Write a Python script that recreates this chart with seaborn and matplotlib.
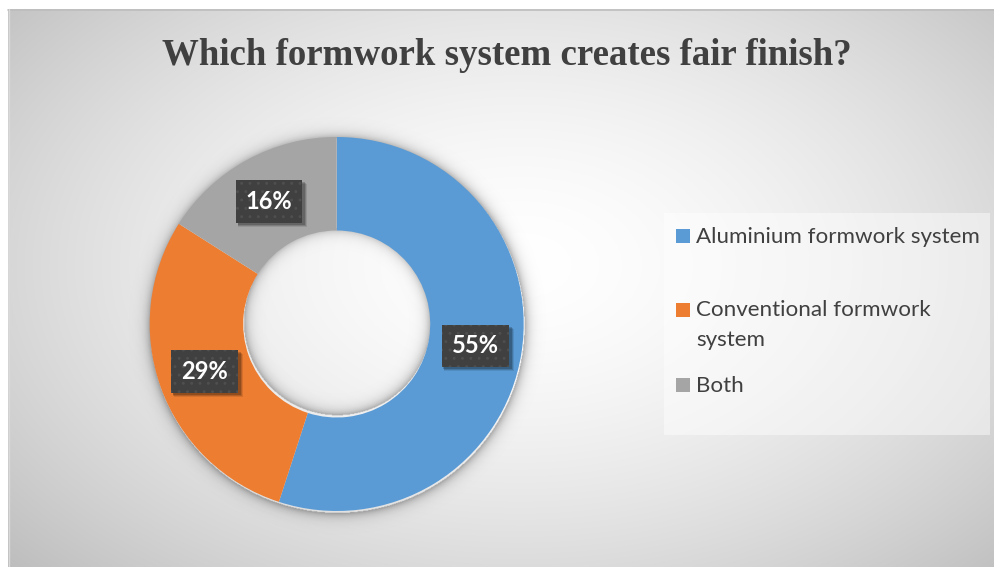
import textwrap
import numpy as np
import matplotlib
matplotlib.use("Agg")
import matplotlib.pyplot as plt
import matplotlib.transforms as mtransforms
from matplotlib.patches import Rectangle
import seaborn as sns

# Survey answers: which formwork system gives a fair finish
categories = ["Aluminium formwork system", "Conventional formwork system", "Both"]
shares = [55, 29, 16]
colors = ["#5B9BD5", "#ED7D31", "#A5A5A5"]
title = "Which formwork system creates fair finish?"

sns.set_theme(style="white")
plt.rcParams["font.family"] = ["Lato", "DejaVu Sans"]
plt.rcParams["hatch.linewidth"] = 0.9

W, H = 994, 567
fig = plt.figure(figsize=(W / 100, H / 100), dpi=100)
fig.patch.set_facecolor("white")


def fx(px):
    return px / W


def fy(py):
    return 1 - py / H


# chart area with a soft radial gradient
x0, y0, x1, y1 = 8, 9, 994, 567
bg = fig.add_axes([fx(x0), fy(y1), fx(x1 - x0), (y1 - y0) / H])
xs = np.arange(x0, x1)
ys = np.arange(y0, y1)
X, Y = np.meshgrid(xs, ys)
d = np.sqrt(((X - 520) / 520) ** 2 + ((Y - 265) / 330) ** 2)
v = np.clip(255 - 41 * d ** 1.6, 0, 255) / 255
bg.imshow(np.dstack([v, v, v]), aspect="auto", extent=(x0, x1, y1, y0))
bg.set_xlim(x0, x1)
bg.set_ylim(y1, y0)
bg.axis("off")
fig.add_artist(plt.Line2D([fx(x0), 1], [fy(y0 + 0.5)] * 2, color="#bdbdbd", lw=1.2))
fig.add_artist(plt.Line2D([fx(x0 + 0.5)] * 2, [0, fy(y0)], color="#d9d9d9", lw=1))

# donut
cx, cy, R = 336.7, 324, 187
lim = 1.3
ax = fig.add_axes([fx(cx - lim * R), fy(cy + lim * R), 2 * lim * R / W, 2 * lim * R / H])
ax.axis("off")

g = np.linspace(-lim, lim, 700)
GX, GY = np.meshgrid(g, g)
r = np.sqrt(GX ** 2 + (GY + 0.012) ** 2)
outer = np.where(r > 1, 0.32 * np.exp(-(r - 1) * R / 5.0), 0)
r2 = np.sqrt(GX ** 2 + (GY - 0.01) ** 2)
inner = np.where(r2 < 0.5, 0.30 * np.exp(-(0.5 - r2) * R / 5.0), 0)

wedges, _, autotexts = ax.pie(
    shares,
    colors=colors,
    startangle=90,
    counterclock=False,
    radius=1,
    autopct="%d%%",
    pctdistance=0.75,
    wedgeprops=dict(width=0.5, linewidth=0),
    textprops=dict(color="white", fontsize=17, fontweight="bold"),
)
shadow = np.zeros(GX.shape + (4,))
shadow[..., 3] = outer + inner
ax.imshow(shadow, extent=(-lim, lim, -lim, lim), origin="lower", zorder=0.5,
          interpolation="bilinear")
for w in wedges:
    w.set_zorder(1)
ax.set_xlim(-lim, lim)
ax.set_ylim(-lim, lim)
ax.set_aspect("auto")

# value labels on dark dotted boxes
for t in autotexts:
    t.set_zorder(5)
    t.set_bbox(dict(boxstyle="square,pad=0.42", fc="#404040", ec="#4f4f4f", lw=0,
                    hatch=".."))

# soft drop shadow behind each label box, sized from the drawn box
fig.canvas.draw()
ident = mtransforms.IdentityTransform()
for t in autotexts:
    bb = t.get_bbox_patch().get_window_extent()
    for k, a in [(4, 0.10), (3, 0.15), (2, 0.2)]:
        ax.add_patch(Rectangle((bb.x0 + 1 + k * 0.3, bb.y0 - k), bb.width + k * 0.7, bb.height,
                               transform=ident, fc="black", alpha=a, lw=0,
                               zorder=4, clip_on=False))

# title
fig.text(fx(507), fy(65), title, ha="center", va="baseline",
         family=["Liberation Serif"], fontweight="bold", fontsize=26.6, color="#404040")

# legend
fig.add_artist(Rectangle((fx(664), fy(435)), fx(990 - 664), (435 - 213) / H,
                         transform=fig.transFigure, fc="white", alpha=0.45, ec="none"))
baselines = [243, 316.5, 391.5]
for name, col, base in zip(categories, colors, baselines):
    fig.add_artist(Rectangle((fx(676), fy(base)), fx(14), 14 / H,
                             transform=fig.transFigure, fc=col, ec="none"))
    for i, line in enumerate(textwrap.wrap(name, 25)):
        fig.text(fx(696), fy(base + 30 * i), line, ha="left", va="baseline",
                 fontsize=16.1, color="#404040")

fig.savefig("out.png", dpi=100)
